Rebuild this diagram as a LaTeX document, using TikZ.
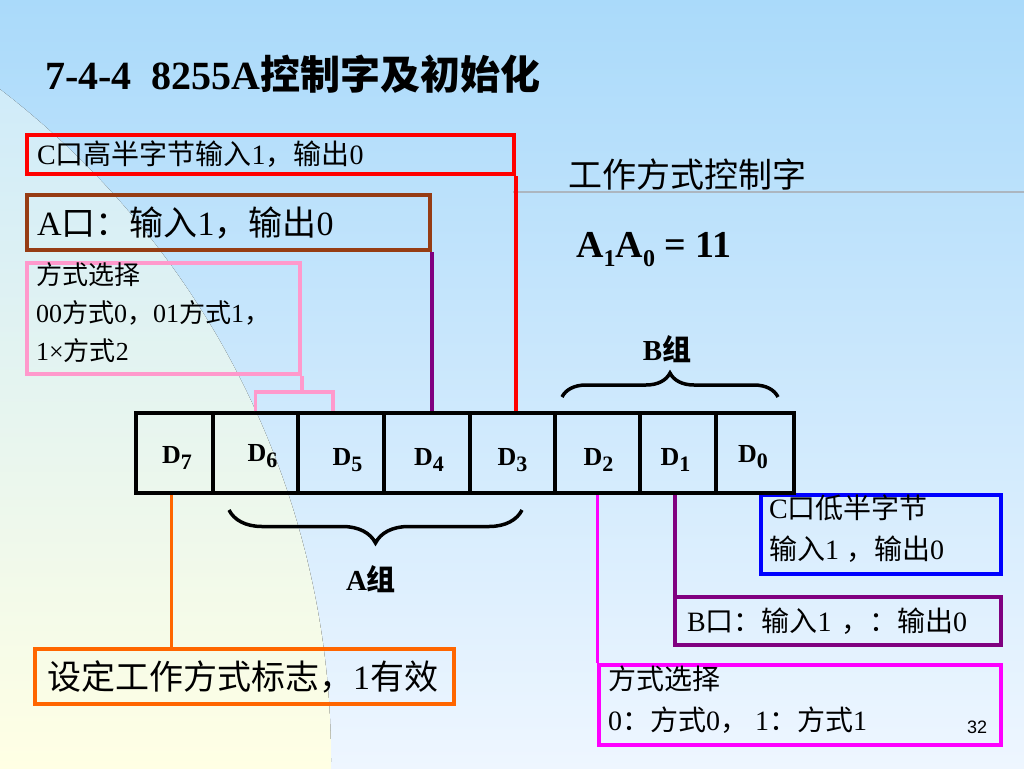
\documentclass[tikz,border=0pt]{standalone}
\usepackage{fontspec}
\setmainfont{Liberation Serif}
\newfontfamily\cjkfont{Noto Sans CJK SC}
\newfontfamily\pgfont{Liberation Sans}
\usepackage{tikz}
\usetikzlibrary{decorations.pathreplacing}
\usepackage{xcolor}
\definecolor{bgtop}{RGB}{170,218,250}
\definecolor{bgbot}{RGB}{238,246,255}
\definecolor{disctop}{RGB}{202,233,252}
\definecolor{discbot}{RGB}{255,255,228}
\definecolor{rulegray}{RGB}{172,182,192}
\definecolor{cred}{RGB}{255,0,0}
\definecolor{cbrown}{RGB}{150,60,20}
\definecolor{cpurple}{RGB}{128,0,128}
\definecolor{cpink}{RGB}{255,153,204}
\definecolor{corange}{RGB}{255,102,0}
\definecolor{cmagenta}{RGB}{255,0,255}
\definecolor{cblue}{RGB}{0,0,255}
\newcommand{\zh}[1]{{\cjkfont #1}}
\newcommand{\fsz}[2]{\fontsize{#1}{#2}\selectfont}
\newcommand{\bitname}[1]{D\raisebox{-6pt}{\fsz{22}{22}#1}}
\newcommand{\lowidx}[1]{\raisebox{-9pt}{\fsz{24}{24}#1}}

\begin{document}
\begin{tikzpicture}[x=1pt, y=-1pt,
    tag/.style={draw, line width=4pt, rectangle, anchor=north west,
                inner xsep=10pt, inner ysep=0pt, align=left},
    tagtext/.style={anchor=north west, inner sep=0pt, align=left},
    bitcell/.style={draw, line width=3.5pt, minimum height=80pt, inner sep=0pt},
    bitlbl/.style={font=\fsz{26}{26}\bfseries, inner sep=0pt, anchor=base},
    grplbl/.style={font=\fsz{29}{29}\bfseries, inner sep=0pt, anchor=base},
    link/.style={line width=3.5pt},
    curly/.style={line width=3.5pt, decorate}]

% background
\useasboundingbox (0,0) rectangle (1024,768);
\fill [top color=bgtop, bottom color=bgbot] (0,0) rectangle (1024,768);
\begin{scope}
  \clip (-514,760) circle (845);
  \fill [top color=disctop, bottom color=discbot] (0,0) rectangle (1024,768);
\end{scope}
\draw [rulegray, line width=1.5pt] (513,192) -- (1024,192);

% headings
\node [anchor=west, inner sep=0pt, font=\fsz{40}{40}\bfseries] (title) at (45,74) {7-4-4\ \ 8255A\zh{控制字及初始化}};
\node [anchor=west, inner sep=0pt, font=\fsz{34}{34}] (cwtitle) at (568,174) {\zh{工作方式控制字}};
\node [anchor=base west, inner sep=0pt, font=\fsz{38}{38}\bfseries] (addr) at (576,257) {A\lowidx{1}A\lowidx{0} = 11};

% boxes
\node [tag, draw=cred, text width=467pt, minimum height=39pt, font=\fsz{28}{28}] (chigh) at (25,133) {C\zh{口高半字节输入}1\zh{，输出}0};
\node [tag, draw=cbrown, text width=383pt, minimum height=55pt, font=\fsz{34}{34}] (aport) at (25,193) {A\zh{口：输入}1\zh{，输出}0};
\node [tag, draw=cpink, minimum width=273pt, minimum height=111pt] (modea) at (25,261) {};
\node [tagtext, font=\fsz{26}{38}] (modeatxt) at (36,262) {\zh{方式选择}\\00\zh{方式}0\zh{，}01\zh{方式}1\zh{，}\\1×\zh{方式}2};
\node [tag, draw=corange, inner xsep=12pt, text width=395pt, minimum height=55pt, font=\fsz{34}{34}] (flag) at (33,647) {\zh{设定工作方式标志，}1\zh{有效}};
\node [tag, draw=cblue, minimum width=240pt, minimum height=79pt] (clow) at (759,493) {};
\node [tagtext, font=\fsz{28}{41}] (clowtxt) at (769,495) {C\zh{口低半字节}\\\zh{输入}1 \zh{，输出}0};
\node [tag, draw=cpurple, inner xsep=12pt, text width=302pt, minimum height=48pt, font=\fsz{28}{28}] (bport) at (673,595) {B\zh{口：输入}1 \zh{，：输出}0};
\node [tag, draw=cmagenta, minimum width=402pt, minimum height=80pt] (modesel) at (597,663) {};
\node [tagtext, font=\fsz{28}{41}] (modeseltxt) at (608,666) {\zh{方式选择}\\0\zh{：方式}0\zh{，} 1\zh{：方式}1};

% register cells
\foreach \b/\lo/\hi/\dx/\dy in {7/136/213/2.5/10, 6/213/298/7/8, 5/298/384/6.5/12, 4/384/470/2/12,
                                 3/470/555/0/12, 2/555/640/1/12, 1/640/716/-2.5/12, 0/716/794/-2/9}{
  \node [bitcell, minimum width={(\hi-\lo)*1pt}] (D\b) at ({(\lo+\hi)/2},453) {};
  \node [bitlbl] (L\b) at ([xshift=\dx pt, yshift=-\dy pt]D\b.center) {\bitname{\b}};
}

% connectors
\draw [link, cred] (chigh.south east) -- (chigh.south east |- D3.north);
\draw [link, cpurple] (aport.south east) -- (aport.south east |- D4.north);
\draw [link, cpink] (modea.south east) -- ++(0,16) coordinate (fork);
\draw [link, cpink] (D6.north) |- (fork) -| ([xshift=-8pt]D5.north);
\draw [link, corange] ([xshift=-3pt]D7.south) -- ([xshift=-3pt]D7.south |- flag.north);
\draw [link, cmagenta] (D2.south) -- (D2.south |- modesel.north);
\draw [link, cpurple] ([xshift=-3pt]D1.south) -- ([xshift=-3pt]D1.south |- bport.north);

% groups
\draw [curly, decoration={brace, amplitude=24pt}] (562,397) -- (778,397);
\node [grplbl] (bgrp) at (667,360) {B\zh{组}};
\draw [curly, decoration={brace, amplitude=33pt}] (522,510) -- (229,510);
\node [grplbl] (agrp) at (371,590) {A\zh{组}};

\node [font=\pgfont\fsz{18}{18}, inner sep=0pt] (pgno) at (977,727) {32};
\end{tikzpicture}
\end{document}
